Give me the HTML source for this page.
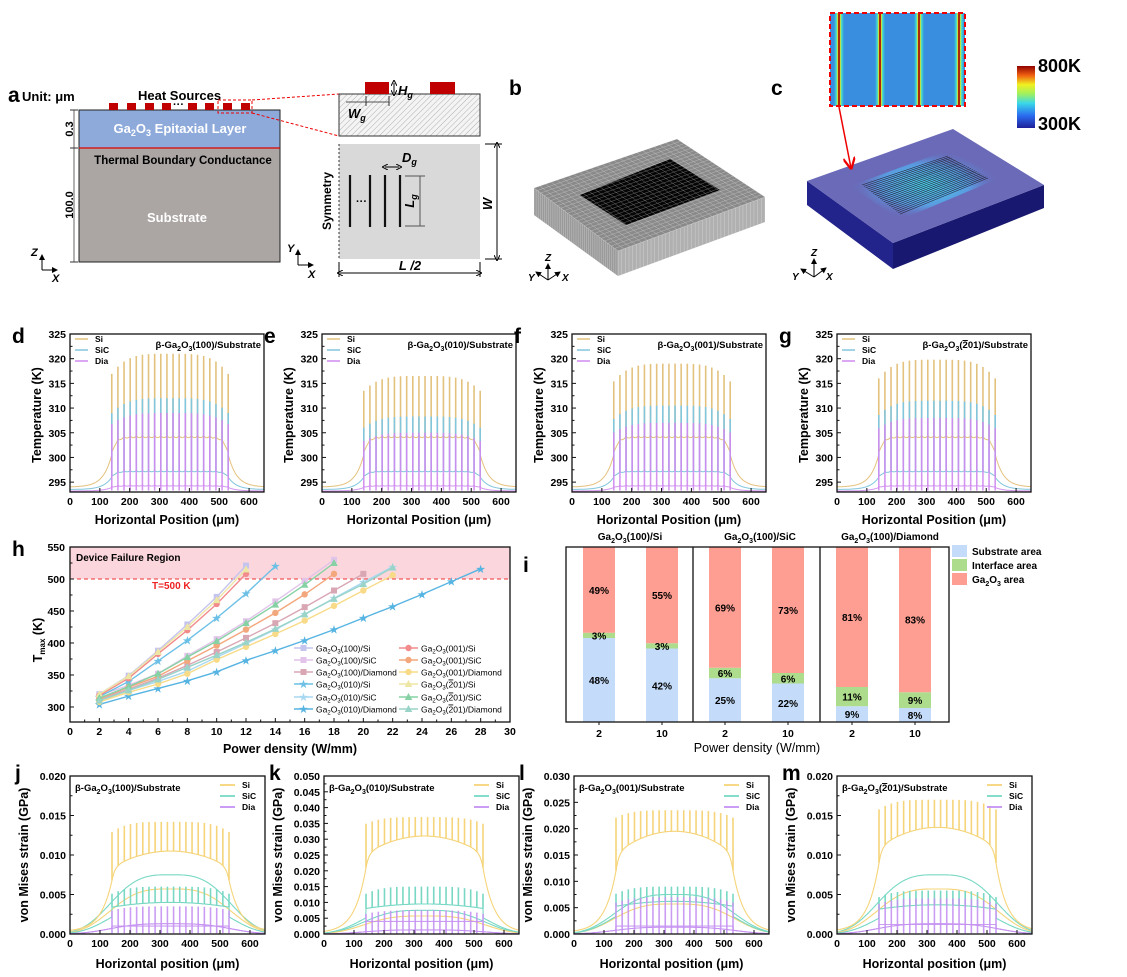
<!DOCTYPE html>
<html><head><meta charset="utf-8"><style>
html,body{margin:0;padding:0;background:#fff;}
svg{display:block;font-family:"Liberation Sans",Arial,sans-serif;}
</style></head><body>
<svg id="s" width="1127" height="977" viewBox="0 0 1127 977" xmlns="http://www.w3.org/2000/svg">
<defs>
<pattern id="hatch" width="4" height="4" patternUnits="userSpaceOnUse" patternTransform="rotate(45)">
<rect width="4" height="4" fill="#f4f4f4"/><line x1="0" y1="0" x2="0" y2="4" stroke="#b0b0b0" stroke-width="1"/></pattern>
<linearGradient id="cbar" x1="0" y1="1" x2="0" y2="0">
<stop offset="0" stop-color="#20209a"/><stop offset="0.2" stop-color="#2a6cf0"/><stop offset="0.4" stop-color="#3ad8e8"/><stop offset="0.55" stop-color="#a0f060"/><stop offset="0.7" stop-color="#f0f020"/><stop offset="0.85" stop-color="#f06010"/><stop offset="1" stop-color="#900000"/></linearGradient>
<linearGradient id="stripe" x1="0" y1="0" x2="1" y2="0">
<stop offset="0" stop-color="#3a8ee0"/><stop offset="0.25" stop-color="#40e0d0"/><stop offset="0.38" stop-color="#e8e020"/><stop offset="0.45" stop-color="#a00000"/><stop offset="0.55" stop-color="#a00000"/><stop offset="0.62" stop-color="#e8e020"/><stop offset="0.75" stop-color="#40e0d0"/><stop offset="1" stop-color="#3a8ee0"/></linearGradient>
<radialGradient id="glow" cx="0.5" cy="0.5" r="0.5">
<stop offset="0" stop-color="#4ad0e8"/><stop offset="0.6" stop-color="#5a9ae0"/><stop offset="1" stop-color="#6a6ab8" stop-opacity="0"/></radialGradient>
<marker id="ah" markerWidth="6" markerHeight="6" refX="5" refY="3" orient="auto"><path d="M0,0 L6,3 L0,6 z" fill="#000"/></marker>
<marker id="ahr" markerWidth="8" markerHeight="8" refX="7" refY="4" orient="auto"><path d="M0,0 L8,4 L0,8" fill="none" stroke="#e00" stroke-width="1.5"/></marker>
<marker id="ab" markerWidth="6" markerHeight="6" refX="3" refY="3" orient="auto-start-reverse"><path d="M0,0 L6,3 L0,6" fill="none" stroke="#000" stroke-width="1"/></marker>
</defs>
<g font-weight="bold">
<!-- Panel a -->
<text x="8" y="102" font-size="21">a</text>
<text x="22" y="101" font-size="13">Unit: μm</text>
<text x="138" y="100" font-size="13">Heat Sources</text>
<rect x="79" y="110" width="201" height="38" fill="#8eaadb"/>
<rect x="79" y="148" width="201" height="114" fill="#aba6a4"/>
<rect x="79" y="110" width="201" height="152" fill="none" stroke="#222" stroke-width="1"/>
<line x1="79" y1="148" x2="280" y2="148" stroke="#d00" stroke-width="1.2"/>
<g fill="#c00000">
<rect x="109" y="103" width="9" height="7"/><rect x="127" y="103" width="9" height="7"/><rect x="145" y="103" width="9" height="7"/><rect x="162" y="103" width="9" height="7"/><rect x="188" y="103" width="9" height="7"/><rect x="205" y="103" width="9" height="7"/><rect x="223" y="103" width="9" height="7"/><rect x="241" y="103" width="9" height="7"/></g>
<text x="173" y="108" font-size="11">···</text>
<rect x="218" y="100" width="34" height="13" fill="none" stroke="#e00" stroke-dasharray="3,2"/>
<line x1="252" y1="100" x2="339" y2="94" stroke="#e00" stroke-dasharray="3,2"/>
<line x1="252" y1="113" x2="339" y2="136" stroke="#e00" stroke-dasharray="3,2"/>
<text x="180" y="133" font-size="13" fill="#fff" text-anchor="middle">Ga<tspan font-size="9" dy="3">2</tspan><tspan dy="-3">O</tspan><tspan font-size="9" dy="3">3</tspan><tspan dy="-3"> Epitaxial Layer</tspan></text>
<text x="183" y="164" font-size="11.5" text-anchor="middle">Thermal Boundary Conductance</text>
<text x="177" y="222" font-size="13" fill="#fff" text-anchor="middle">Substrate</text>
<line x1="74" y1="110" x2="74" y2="262" stroke="#666"/>
<line x1="70" y1="110" x2="78" y2="110" stroke="#333"/><line x1="70" y1="148" x2="78" y2="148" stroke="#333"/><line x1="70" y1="262" x2="78" y2="262" stroke="#333"/>
<text transform="translate(73,129) rotate(-90)" font-size="11" text-anchor="middle">0.3</text>
<text transform="translate(73,205) rotate(-90)" font-size="11" text-anchor="middle">100.0</text>
<g stroke="#000" stroke-width="1" fill="none"><line x1="42" y1="270" x2="42" y2="255" marker-end="url(#ah)"/><line x1="42" y1="270" x2="57" y2="270" marker-end="url(#ah)"/>
<line x1="298" y1="265" x2="298" y2="250" marker-end="url(#ah)"/><line x1="298" y1="265" x2="313" y2="265" marker-end="url(#ah)"/></g>
<text x="31" y="256" font-size="11" font-style="italic">Z</text><text x="52" y="282" font-size="11" font-style="italic">X</text>
<text x="287" y="252" font-size="11" font-style="italic">Y</text><text x="308" y="278" font-size="11" font-style="italic">X</text>
<rect x="339" y="94" width="141" height="42" fill="url(#hatch)" stroke="#333"/>
<rect x="365" y="82" width="24" height="12" fill="#c00000"/><rect x="430" y="82" width="25" height="12" fill="#c00000"/>
<line x1="394" y1="83" x2="394" y2="93" stroke="#000" marker-start="url(#ab)" marker-end="url(#ab)"/>
<text x="398" y="95" font-size="13" font-style="italic">H<tspan font-size="9" dy="3">g</tspan></text>
<line x1="346" y1="102" x2="389" y2="102" stroke="#555"/><line x1="366" y1="96" x2="366" y2="106" stroke="#333"/><line x1="389" y1="96" x2="389" y2="106" stroke="#333"/>
<text x="348" y="118" font-size="13" font-style="italic">W<tspan font-size="9" dy="3">g</tspan></text>
<rect x="339" y="144" width="141" height="115" fill="#d9d9d9"/>
<line x1="339" y1="144" x2="339" y2="259" stroke="#333" stroke-dasharray="2,2"/>
<g stroke="#111" stroke-width="2.2"><line x1="350" y1="175" x2="350" y2="227"/><line x1="370" y1="175" x2="370" y2="227"/><line x1="385" y1="175" x2="385" y2="227"/><line x1="400" y1="175" x2="400" y2="227"/></g>
<text x="356" y="205" font-size="11">···</text>
<line x1="385" y1="167" x2="399" y2="167" stroke="#000" marker-start="url(#ab)" marker-end="url(#ab)"/>
<text x="402" y="162" font-size="13" font-style="italic">D<tspan font-size="9" dy="3">g</tspan></text>
<line x1="420" y1="176" x2="420" y2="226" stroke="#555"/><line x1="405" y1="176" x2="425" y2="176" stroke="#555"/><line x1="405" y1="226" x2="425" y2="226" stroke="#555"/>
<text transform="translate(414,201) rotate(-90)" font-size="13" font-style="italic" text-anchor="middle">L<tspan font-size="9" dy="3">g</tspan></text>
<text transform="translate(331,201) rotate(-90)" font-size="12" text-anchor="middle">Symmetry</text>
<line x1="497" y1="145" x2="497" y2="258" stroke="#000" marker-start="url(#ab)" marker-end="url(#ab)"/>
<line x1="485" y1="144" x2="502" y2="144" stroke="#000"/><line x1="485" y1="259" x2="502" y2="259" stroke="#000"/>
<text transform="translate(492,204) rotate(-90)" font-size="13" font-style="italic" text-anchor="middle">W</text>
<line x1="340" y1="273" x2="479" y2="273" stroke="#000" marker-start="url(#ab)" marker-end="url(#ab)"/>
<line x1="339" y1="262" x2="339" y2="277" stroke="#000"/><line x1="480" y1="262" x2="480" y2="277" stroke="#000"/>
<text x="410" y="270" font-size="13" font-style="italic" text-anchor="middle">L /2</text>
<!-- Panel b -->
<text x="509" y="95" font-size="21">b</text>
<polygon points="534,188 534,215 618,276 618,251" fill="#9a9a9a"/>
<polygon points="618,251 618,276 765,222 765,197" fill="#b0b0b0"/>
<polygon points="534,188 677,139 765,197 618,251" fill="#8a8a8a"/>
<polygon points="580,195 670,159 720,190 626,225" fill="#050505"/>
<g stroke="#fff" stroke-width="0.4" opacity="0.5" id="bmesh"></g>
<g stroke="#000" fill="none"><line x1="548" y1="280" x2="548" y2="264" marker-end="url(#ah)"/><line x1="548" y1="280" x2="560" y2="272" marker-end="url(#ah)"/><line x1="548" y1="280" x2="536" y2="272" marker-end="url(#ah)"/></g>
<text x="545" y="261" font-size="10" font-style="italic">Z</text><text x="528" y="281" font-size="10" font-style="italic">Y</text><text x="562" y="281" font-size="10" font-style="italic">X</text>
<!-- Panel c -->
<text x="771" y="95" font-size="21">c</text>
<polygon points="807,181 807,205 893,269 893,243" fill="#23238c"/>
<polygon points="893,243 893,269 1044,208 1044,185" fill="#181870"/>
<polygon points="807,181 953,129 1044,185 893,243" fill="#6a6ab8"/>
<polygon points="850,186 948,150 1000,178 900,220" fill="url(#glow)"/>
<g stroke="#223" stroke-width="0.6" id="cgrid"></g>
<line x1="839" y1="107" x2="851" y2="168" stroke="#e00" stroke-width="1.5" marker-end="url(#ahr)"/>
<rect x="830" y="13" width="135" height="93" fill="#3a8ee0"/>
<rect x="834" y="13" width="10" height="93" fill="url(#stripe)"/>
<rect x="875" y="13" width="10" height="93" fill="url(#stripe)"/>
<rect x="914" y="13" width="10" height="93" fill="url(#stripe)"/>
<rect x="954" y="13" width="10" height="93" fill="url(#stripe)"/>
<rect x="830" y="13" width="135" height="93" fill="none" stroke="#e00" stroke-width="2" stroke-dasharray="5,3"/>
<rect x="1017" y="66" width="18" height="62" fill="url(#cbar)"/>
<text x="1038" y="72" font-size="18">800K</text><text x="1038" y="130" font-size="18">300K</text>
<g stroke="#000" fill="none"><line x1="814" y1="277" x2="814" y2="259" marker-end="url(#ah)"/><line x1="814" y1="277" x2="826" y2="268" marker-end="url(#ah)"/><line x1="814" y1="277" x2="801" y2="269" marker-end="url(#ah)"/></g>
<text x="811" y="256" font-size="10" font-style="italic">Z</text><text x="792" y="280" font-size="10" font-style="italic">Y</text><text x="826" y="280" font-size="10" font-style="italic">X</text>
<g id="plots"></g>
</g>
</svg>
<script>
var NS="http://www.w3.org/2000/svg";
var P=document.getElementById('plots');
function el(tag,attrs,txt,parent){var e=document.createElementNS(NS,tag);for(var k in attrs)e.setAttribute(k,attrs[k]);if(txt!==undefined&&txt!==null)e.innerHTML=txt;(parent||P).appendChild(e);return e;}
// mesh b
(function(){var g=document.getElementById('bmesh');
for(var i=0;i<=40;i++){var t=i/40;el('line',{x1:534+84*t,y1:215+61*t,x2:534+84*t,y2:188+63*t},null,g);el('line',{x1:618+147*t,y1:276-54*t,x2:618+147*t,y2:251-54*t},null,g);}
for(var i=0;i<=25;i++){var t=i/25;el('line',{x1:534+143*t,y1:188-49*t,x2:618+147*t,y2:251-54*t},null,g);el('line',{x1:534+84*t,y1:188+63*t,x2:677+88*t,y2:139+58*t},null,g);}
var c=document.getElementById('cgrid');
for(var i=0;i<22;i++){var t=i/21;el('line',{x1:862+38*t,y1:185+29*t,x2:948+40*t,y2:156+22*t},null,c);}
})();
var B='font-weight="bold"';
function frame(x0,y0,w,h){el('rect',{x:x0,y:y0,width:w,height:h,fill:'none',stroke:'#111','stroke-width':1.3});}
function txt(x,y,s,size,anchor,extra){var a={x:x,y:y,'font-size':size,'text-anchor':anchor||'start'};if(extra)for(var k in extra)a[k]=extra[k];return el('text',a,s);}
function rtxt(x,y,s,size){return el('text',{transform:'translate('+x+','+y+') rotate(-90)','font-size':size,'text-anchor':'middle'},s);}
var GA='β-Ga<tspan font-size="7" dy="3">2</tspan><tspan dy="-3">O</tspan><tspan font-size="7" dy="3">3</tspan><tspan dy="-3">';
var srcs=[];for(var i=0;i<20;i++)srcs.push(140+i*390/19);
function pathD(pts){return 'M'+pts.map(function(p){return p[0].toFixed(1)+','+p[1].toFixed(1)}).join('L');}
// generic spiky curve
function spiky(fx,X,Y,spUp,spDown,col,w,op){
 var pts=[];for(var x=0;x<=650;x+=1){pts.push([X(x),Y(fx(x))]);}
 el('path',{d:pathD(pts),fill:'none',stroke:col,'stroke-width':w||1,opacity:op||1});
 srcs.forEach(function(s,i){var u=(s-335)/195;var top=spUp(u);var bot=spDown?spDown(u):fx(s);
  el('line',{x1:X(s),x2:X(s),y1:Y(bot),y2:Y(top),stroke:col,'stroke-width':1.6,opacity:op||1});});
}
function base(b0,r,p,x,sc){ // plateau curve
 if(x<140)return b0+(r-b0)*Math.exp(-(140-x)/28);
 if(x>530)return b0+(r-b0)*Math.exp(-(x-530)/28);
 var v=p-(p-r)*(Math.exp(-(x-140)/14)+Math.exp(-(530-x)/14));
 if(sc){var d=1e9;srcs.forEach(function(s){d=Math.min(d,Math.abs(x-s));});v+=sc*Math.exp(-d/3);}
 return v;}
// temperature panels
var tp=[{l:'d',x0:70,sub:'(100)',pk:[321,312,309]},{l:'e',x0:322,sub:'(010)',pk:[316.5,308.3,305]},{l:'f',x0:572,sub:'(001)',pk:[319,310.5,307]},{l:'g',x0:837,sub:'(<tspan text-decoration="overline">2</tspan>01)',pk:[319.8,311.5,308]}];
tp.forEach(function(p){
 var x0=p.x0,y0=334,w=194,h=158;
 var X=function(v){return x0+v/650*w},Y=function(t){return y0+h-(t-293)/32*h};
 txt(x0-58,y0+9,p.l,21);
 var cS='#e3c27e',cC='#82c6de',cD='#d08af0';
 spiky(function(x){return base(294,300.6,304,x,0.6)},X,Y,function(u){return 304+(p.pk[0]-304)*(1-0.24*Math.pow(u,4))},null,cS,1);
 spiky(function(x){return base(293.5,296,297.1,x,0.3)},X,Y,function(u){return 297+(p.pk[1]-297)*(1-0.2*Math.pow(u,4))},null,cC,1);
 spiky(function(x){return base(293.2,293.9,294.2,x,0.2)},X,Y,function(u){return 294+(p.pk[2]-294)*(1-0.15*Math.pow(u,4))},function(){return 293.3},cD,1,0.9);
 frame(x0,y0,w,h);
 for(var t=295;t<=325;t+=5){var yy=Y(t);el('line',{x1:x0,x2:x0+4,y1:yy,y2:yy,stroke:'#111'});txt(x0-4,yy+4,t,10.5,'end');}
 for(var t=297.5;t<325;t+=5){var yy=Y(t);el('line',{x1:x0,x2:x0+2.5,y1:yy,y2:yy,stroke:'#111'});}
 for(var v=0;v<=600;v+=100){var xx=X(v);el('line',{x1:xx,x2:xx,y1:y0+h,y2:y0+h-4,stroke:'#111'});txt(xx,y0+h+13,v,10.5,'middle');}
 txt(x0+w/2,y0+h+32,'Horizontal Position (μm)',12.5,'middle');
 rtxt(x0-29,y0+h/2+2,'Temperature (K)',12.5);
 [['Si',cS],['SiC',cC],['Dia',cD]].forEach(function(a,i){var yy=y0+5+i*11;el('line',{x1:x0+5,x2:x0+18,y1:yy,y2:yy,stroke:a[1],'stroke-width':1.5});txt(x0+25,yy+3,a[0],8.5);});
 txt(x0+w-3,y0+14,GA+p.sub+'/Substrate</tspan>',9.5,'end');
});
// strain panels
var sp=[{l:'j',x0:70,ymax:0.02,step:0.005,dec:3,sub:'(100)',si:[.0068,.0105,.0142],sic:[.004,.006],dia:[.001,.0035],sicd:.0075},
{l:'k',x0:324,ymax:0.05,step:0.005,dec:3,sub:'(010)',si:[.021,.031,.037],sic:[.0095,.015],dia:[.004,.0075],sicd:.0075},
{l:'l',x0:574,ymax:0.03,step:0.005,dec:3,sub:'(001)',si:[.012,.0195,.0235],sic:[.0062,.009],dia:[.0015,.007],sicd:.0075},
{l:'m',x0:837,ymax:0.02,step:0.005,dec:3,sub:'(<tspan text-decoration="overline">2</tspan>01)',si:[.009,.0135,.017],sic:[.0037,.0055],dia:[.0012,.0045],sicd:.0075}];
sp.forEach(function(p){
 var x0=p.x0,y0=776,w=195,h=158;
 var X=function(v){return x0+v/650*w},Y=function(t){return y0+h-t/p.ymax*h};
 txt(x0-55,y0+4,p.l,21);
 var cS='#f5d47a',cC='#78d8c4',cD='#c592f2';
 function dome(a,x){var u=(x-335)/235;return a*Math.exp(-Math.pow(Math.abs(u),3.2)*1.1);}
 function sfun(b,x){var r=b[0],pc=b[1];if(x<140)return 0.0003+(r-0.0003)*Math.exp(-(140-x)/38);if(x>530)return 0.0003+(r-0.0003)*Math.exp(-(x-530)/38);
  var u=(x-335)/195;var v=pc-(pc-r)*Math.pow(u,2)*0.55-(pc-r)*0.45*(Math.exp(-(x-140)/10)+Math.exp(-(530-x)/10));return v;}
 // domes
 var pts;
 [[p.sicd,cC],[.0057,cS],[.0013,cD]].forEach(function(a){pts=[];for(var x=0;x<=650;x+=2)pts.push([X(x),Y(dome(a[0],x))]);el('path',{d:pathD(pts),fill:'none',stroke:a[1],'stroke-width':1.1});});
 spiky(function(x){return sfun(p.si,x)},X,Y,function(u){return p.si[1]+(p.si[2]-p.si[1])*(1-0.35*Math.pow(u,4))},null,cS,1.1);
 spiky(function(x){if(x<140||x>530)return dome(p.sic[0]*1.1,x)*0.9;return p.sic[0]*(1-0.15*Math.pow((x-335)/195,2))},X,Y,function(u){return p.sic[1]*(1-0.15*Math.pow(u,4))},null,cC,1.1);
 spiky(function(x){if(x<140||x>530)return dome(.0013,x);return p.dia[0]},X,Y,function(u){return p.dia[1]*(1-0.15*Math.pow(u,4))},function(){return 0.0001},cD,1.1,0.9);
 frame(x0,y0,w,h);
 for(var t=0;t<=p.ymax+1e-9;t+=p.step){var yy=Y(t);el('line',{x1:x0,x2:x0+4,y1:yy,y2:yy,stroke:'#111'});txt(x0-4,yy+4,t.toFixed(3),10.5,'end');}
 for(var t=p.step/2;t<p.ymax;t+=p.step){var yy=Y(t);el('line',{x1:x0,x2:x0+2.5,y1:yy,y2:yy,stroke:'#111'});}
 for(var v=0;v<=600;v+=100){var xx=X(v);el('line',{x1:xx,x2:xx,y1:y0+h,y2:y0+h-4,stroke:'#111'});txt(xx,y0+h+13,v,10.5,'middle');}
 txt(x0+w/2,y0+h+34,'Horizontal position (μm)',12.5,'middle');
 rtxt(x0-42,y0+h/2,'von Mises strain (GPa)',12.5);
 [['Si',cS],['SiC',cC],['Dia',cD]].forEach(function(a,i){var yy=y0+9+i*11;el('line',{x1:x0+150,x2:x0+165,y1:yy,y2:yy,stroke:a[1],'stroke-width':1.8});txt(x0+172,yy+3,a[0],8.5);});
 txt(x0+5,y0+15,GA+p.sub+'/Substrate</tspan>',9.5,'start');
});
// Panel h
(function(){
 var x0=70,y0=547,w=440,h=175;
 var X=function(v){return x0+v/30*w},Y=function(t){return y0+(550-t)*0.64};
 txt(12,556,'h',21);
 el('rect',{x:x0,y:y0,width:w,height:Y(500)-y0,fill:'#fbd6dc'});
 el('line',{x1:x0,x2:x0+w,y1:Y(500),y2:Y(500),stroke:'#e33','stroke-dasharray':'4,3','stroke-width':1});
 txt(x0+6,y0+14,'Device Failure Region',10);
 txt(152,589,'T=500 K',10,'start',{fill:'#e22'});
 var S=[
 ['(100)/Si','#c4c4ee','s',[320,349,388,429,472,521]],
 ['(100)/SiC','#e2c4ea','s',[318,334,352,380,406,434,465,497,530]],
 ['(100)/Diamond','#d9a6b4','s',[312,328,345,365,386,408,431,456,482,508]],
 ['(010)/Si','#6cc0e6','*',[316,340,372,404,439,477,520]],
 ['(010)/SiC','#a8d8f2','*',[310,326,340,356,378,399,421,445,470,495,519]],
 ['(010)/Diamond','#56b4e2','*',[304,317,329,341,355,373,388,404,421,439,457,476,496,516]],
 ['(001)/Si','#f28c8c','o',[318,345,383,420,461,508]],
 ['(001)/SiC','#f3a77c','o',[313,331,348,372,396,421,447,476,508]],
 ['(001)/Diamond','#f8db88','o',[308,323,336,352,374,394,414,435,458,482,506]],
 ['(<tspan text-decoration="overline">2</tspan>01)/Si','#eee6a4','t',[320,348,386,425,467,515]],
 ['(<tspan text-decoration="overline">2</tspan>01)/SiC','#86d2a4','t',[314,332,352,378,403,431,460,491,525]],
 ['(<tspan text-decoration="overline">2</tspan>01)/Diamond','#9ad4c8','t',[310,326,343,362,381,401,422,445,469,492,518]]];
 function mk(x,y,t,c){if(t=='s')el('rect',{x:x-3,y:y-3,width:6,height:6,fill:c});else if(t=='o')el('circle',{cx:x,cy:y,r:3.2,fill:c});else if(t=='t')el('polygon',{points:(x)+','+(y-4)+' '+(x-3.8)+','+(y+3)+' '+(x+3.8)+','+(y+3),fill:c});else el('text',{x:x,y:y+3.5,'font-size':10,'text-anchor':'middle',fill:c},'★');}
 S.forEach(function(s){var pts=s[3].map(function(t,i){return [X(2+2*i),Y(t)]});el('path',{d:pathD(pts),fill:'none',stroke:s[1],'stroke-width':1.4});pts.forEach(function(q){mk(q[0],q[1],s[2],s[1]);});});
 frame(x0,y0,w,h);
 for(var t=300;t<=550;t+=50){var yy=Y(t);el('line',{x1:x0,x2:x0+4,y1:yy,y2:yy,stroke:'#111'});txt(x0-5,yy+4,t,10.5,'end');}
 for(var t=325;t<550;t+=50){var yy=Y(t);el('line',{x1:x0,x2:x0+2.5,y1:yy,y2:yy,stroke:'#111'});}
 for(var v=0;v<=30;v+=2){var xx=X(v);el('line',{x1:xx,x2:xx,y1:y0+h,y2:y0+h-4,stroke:'#111'});txt(xx,y0+h+13,v,10.5,'middle');}
 for(var v=1;v<30;v+=2){var xx=X(v);el('line',{x1:xx,x2:xx,y1:y0+h,y2:y0+h-2.5,stroke:'#111'});}
 txt(x0+w/2,y0+h+31,'Power density (W/mm)',12.5,'middle');
 el('text',{transform:'translate(42,640) rotate(-90)','font-size':12.5,'text-anchor':'middle'},'T<tspan font-size="8" dy="3">max</tspan><tspan dy="-3"> (K)</tspan>');
 var ry=[648,660,672,684,697,709];
 S.forEach(function(s,i){var col=i<6?0:1;var r=i%6;var lx=col?399:294;var order=[0,1,2,3,4,5];var yy=ry[r];
  el('line',{x1:lx,x2:lx+19,y1:yy,y2:yy,stroke:s[1],'stroke-width':1.4});mk(lx+9.5,yy,s[2],s[1]);
  txt(lx+22,yy+3.5,'Ga<tspan font-size="6" dy="2">2</tspan><tspan dy="-2">O</tspan><tspan font-size="6" dy="2">3</tspan><tspan dy="-2">'+s[0]+'</tspan>',8.5,'start',{'font-weight':'normal'});});
})();
// Panel i
(function(){
 var x0=566,y0=547,w=383,h=175,bot=722;
 txt(523,572,'i',21);
 var bars=[[583,48,3,49],[646,42,3,55],[709,25,6,69],[772,22,6,73],[836,9,11,81],[899,8,9,83]];
 bars.forEach(function(b){var x=b[0],bw=32;var hs=b[1]/100*h,hi=b[2]/100*h,hg=b[3]/100*h;
  el('rect',{x:x,y:bot-hs,width:bw,height:hs,fill:'#c4dcfa'});
  el('rect',{x:x,y:bot-hs-hi,width:bw,height:hi,fill:'#addc8c'});
  el('rect',{x:x,y:y0,width:bw,height:bot-hs-hi-y0,fill:'#fe9e92'});
  txt(x+16,bot-hs/2+4,b[1]+'%',10,'middle');
  txt(x+16,bot-hs-hi/2+4,b[2]+'%',10,'middle');
  txt(x+16,y0+(bot-hs-hi-y0)*0.5+4,b[3]+'%',10,'middle');});
 frame(x0,y0,w,h);
 el('line',{x1:693,x2:693,y1:y0,y2:bot,stroke:'#111','stroke-width':1.3});
 el('line',{x1:820,x2:820,y1:y0,y2:bot,stroke:'#111','stroke-width':1.3});
 bars.forEach(function(b,i){txt(b[0]+16,bot+15,i%2?'10':'2',10.5,'middle');el('line',{x1:b[0]+16,x2:b[0]+16,y1:bot,y2:bot+3,stroke:'#111'});});
 txt(757,752,'Power density (W/mm)',12.5,'middle',{'font-weight':'normal'});
 var GA2='Ga<tspan font-size="7" dy="3">2</tspan><tspan dy="-3">O</tspan><tspan font-size="7" dy="3">3</tspan><tspan dy="-3">';
 txt(630,540,GA2+'(100)/Si</tspan>',10,'middle');txt(760,540,GA2+'(100)/SiC</tspan>',10,'middle');txt(890,540,GA2+'(100)/Diamond</tspan>',10,'middle');
 [['#c4dcfa','Substrate area'],['#addc8c','Interface area'],['#fe9e92',GA2.replace('β-','')+' area</tspan>']].forEach(function(a,i){var yy=545+i*14;el('rect',{x:952,y:yy,width:15,height:12,fill:a[0]});txt(972,yy+10,a[1],10);});
})();
</script>
</body></html>
